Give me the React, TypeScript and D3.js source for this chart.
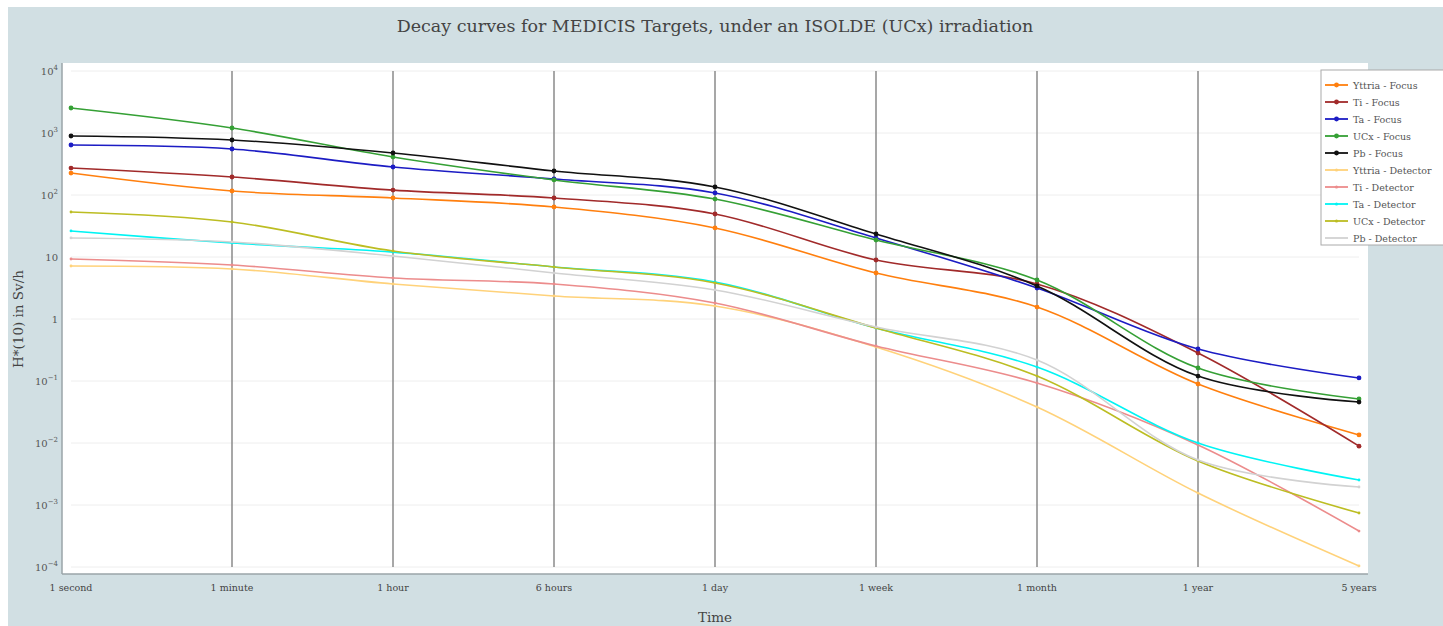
import React, { useEffect, useRef } from 'react';
import * as d3 from 'd3';

// time points after end of irradiation
const timeLabels = ['1 second', '1 minute', '1 hour', '6 hours', '1 day', '1 week', '1 month', '1 year', '5 years'];

// H*(10) in Sv/h
const yttriaFocus = [226, 116, 89.5, 64, 29.4, 5.52, 1.56, 0.0894, 0.0135];
const tiFocus = [272, 195, 120, 89.5, 49.4, 8.95, 3.67, 0.283, 0.0089];
const taFocus = [640, 552, 283, 181, 108, 20.3, 3.16, 0.328, 0.112];
const ucxFocus = [2530, 1205, 410, 175, 86, 18.8, 4.26, 0.162, 0.0513];
const pbFocus = [895, 771, 476, 244, 135, 23.5, 3.41, 0.12, 0.0458];
const yttriaDetector = [7.16, 6.41, 3.67, 2.35, 1.62, 0.353, 0.0381, 0.00156, 0.000104];
const tiDetector = [9.28, 7.43, 4.59, 3.67, 1.81, 0.367, 0.0928, 0.0093, 0.00038];
const taDetector = [26.3, 16.8, 12.0, 6.9, 3.95, 0.716, 0.168, 0.01, 0.00253];
const ucxDetector = [53.2, 36.7, 12.5, 6.9, 3.81, 0.716, 0.12, 0.00513, 0.000743];
const pbDetector = [20.3, 17.5, 10.4, 5.52, 2.94, 0.743, 0.218, 0.00532, 0.00195];

const seriesNames = [
  'Yttria - Focus', 'Ti - Focus', 'Ta - Focus', 'UCx - Focus', 'Pb - Focus',
  'Yttria - Detector', 'Ti - Detector', 'Ta - Detector', 'UCx - Detector', 'Pb - Detector',
];
const seriesValues = [
  yttriaFocus, tiFocus, taFocus, ucxFocus, pbFocus,
  yttriaDetector, tiDetector, taDetector, ucxDetector, pbDetector,
];
const seriesColors = [
  '#ff7f0e', '#a12a2a', '#1c1cc4', '#35a035', '#111111',
  '#ffd27a', '#ec8c8c', '#00f4f4', '#bcbd22', '#d2d2d2',
];

// decades shown on the y axis
const yExponents = [4, 3, 2, 1, 0, -1, -2, -3, -4];

const FONT = '"DejaVu Serif", "Liberation Serif", serif';

const DecayChart = () => {
  const svgRef = useRef<SVGSVGElement>(null);

  useEffect(() => {
    const svg = d3.select(svgRef.current);
    svg.selectAll('*').remove();

    const plot = { left: 62, top: 63, right: 1368, bottom: 574 };

    // background
    svg.append('rect').attr('x', 8).attr('y', 7).attr('width', 1443 - 8).attr('height', 626 - 7).attr('fill', '#d1dfe3');
    svg.append('rect')
      .attr('x', plot.left).attr('y', plot.top)
      .attr('width', plot.right - plot.left).attr('height', plot.bottom - plot.top)
      .attr('fill', '#fff');

    const xScale = d3.scalePoint().domain(timeLabels).range([71, 1359]);
    const yScale = d3.scaleLog().domain([1e-4, 1e4]).range([567, 71]);

    // horizontal grid
    svg.append('g')
      .selectAll('line')
      .data(yExponents)
      .enter()
      .append('line')
      .attr('x1', xScale(timeLabels[0]))
      .attr('x2', xScale(timeLabels[timeLabels.length - 1]))
      .attr('y1', d => yScale(Math.pow(10, d)))
      .attr('y2', d => yScale(Math.pow(10, d)))
      .attr('stroke', '#eeeeee')
      .attr('stroke-width', 1);

    // vertical markers at the inner time points
    svg.append('g')
      .selectAll('line')
      .data(timeLabels.slice(1, -1))
      .enter()
      .append('line')
      .attr('x1', d => xScale(d))
      .attr('x2', d => xScale(d))
      .attr('y1', yScale(1e4))
      .attr('y2', yScale(1e-4))
      .attr('stroke', '#8a8a8a')
      .attr('stroke-width', 1.5);

    // axis borders
    svg.append('line').attr('x1', plot.left).attr('x2', plot.left).attr('y1', plot.top).attr('y2', plot.bottom)
      .attr('stroke', '#9aa4a8').attr('stroke-width', 1.5);
    svg.append('line').attr('x1', plot.left).attr('x2', plot.right).attr('y1', plot.bottom).attr('y2', plot.bottom)
      .attr('stroke', '#9aa4a8').attr('stroke-width', 1.5);

    // y tick labels (powers of ten)
    const yTicks = svg.append('g')
      .selectAll('text')
      .data(yExponents)
      .enter()
      .append('text')
      .attr('x', 58)
      .attr('y', d => yScale(Math.pow(10, d)) + 4)
      .attr('text-anchor', 'end')
      .attr('font-family', FONT)
      .attr('font-size', 10)
      .attr('fill', '#555');
    yTicks.each(function (d) {
      const t = d3.select(this);
      if (d === 0) {
        t.text('1');
      } else if (d === 1) {
        t.text('10');
      } else {
        t.append('tspan').text('10');
        t.append('tspan').attr('dy', -5).attr('font-size', 7).text(d < 0 ? '\u2212' + -d : String(d));
      }
    });

    // x tick labels
    svg.append('g')
      .selectAll('text')
      .data(timeLabels)
      .enter()
      .append('text')
      .attr('x', d => xScale(d))
      .attr('y', 591)
      .attr('text-anchor', 'middle')
      .attr('font-family', FONT)
      .attr('font-size', 9.5)
      .attr('fill', '#444')
      .text(d => d);

    // series
    const line = d3.line<number>()
      .x((_, i) => xScale(timeLabels[i]))
      .y(d => yScale(d))
      .curve(d3.curveCatmullRom.alpha(0.5));

    seriesValues.forEach((vals, s) => {
      const isFocus = s < 5;
      svg.append('path')
        .datum(vals)
        .attr('d', line)
        .attr('fill', 'none')
        .attr('stroke', seriesColors[s])
        .attr('stroke-width', 1.6);
      svg.append('g')
        .selectAll('circle')
        .data(vals)
        .enter()
        .append('circle')
        .attr('cx', (_, i) => xScale(timeLabels[i]))
        .attr('cy', d => yScale(d))
        .attr('r', isFocus ? 2.4 : 1.4)
        .attr('fill', seriesColors[s]);
    });

    // legend
    const legend = svg.append('g');
    legend.append('rect')
      .attr('x', 1321).attr('y', 70).attr('width', 130).attr('height', 175)
      .attr('fill', '#fff').attr('stroke', '#aaa').attr('stroke-width', 1);
    seriesNames.forEach((name, s) => {
      const y = 85 + s * 17;
      legend.append('line').attr('x1', 1325).attr('x2', 1348).attr('y1', y).attr('y2', y)
        .attr('stroke', seriesColors[s]).attr('stroke-width', 1.8);
      if (s !== 9) {
        legend.append('circle').attr('cx', 1336.5).attr('cy', y).attr('r', s < 5 ? 2.4 : 1.6).attr('fill', seriesColors[s]);
      }
      legend.append('text')
        .attr('x', 1353).attr('y', y + 3.5)
        .attr('font-family', FONT).attr('font-size', 9.5).attr('fill', '#555')
        .text(name);
    });

    // titles
    svg.append('text')
      .attr('x', 715).attr('y', 32)
      .attr('text-anchor', 'middle')
      .attr('font-family', FONT).attr('font-size', 17.5).attr('fill', '#444')
      .text('Decay curves for MEDICIS Targets, under an ISOLDE (UCx) irradiation');
    svg.append('text')
      .attr('x', 715).attr('y', 622)
      .attr('text-anchor', 'middle')
      .attr('font-family', FONT).attr('font-size', 13.5).attr('fill', '#444')
      .text('Time');
    svg.append('text')
      .attr('transform', 'translate(23, 319) rotate(-90)')
      .attr('text-anchor', 'middle')
      .attr('font-family', FONT).attr('font-size', 13.5).attr('fill', '#444')
      .text('H*(10) in Sv/h');
  }, []);

  return (
    <svg
      ref={svgRef}
      width={1443}
      height={626}
      style={{ position: 'absolute', left: 0, top: 0, background: '#fff' }}
    />
  );
};

export default function App() {
  return <DecayChart />;
}
